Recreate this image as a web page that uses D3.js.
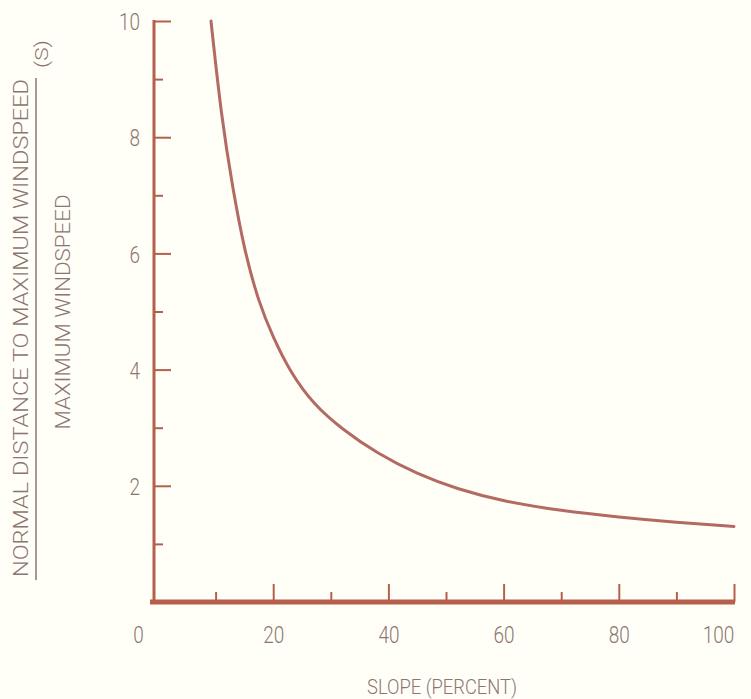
<!DOCTYPE html>
<html>
<head>
<meta charset="utf-8">
<script src="https://cdn.jsdelivr.net/npm/d3@7"></script>
<style>
  html, body { margin: 0; padding: 0; background: #fffff8; }
  svg { display: block; }
  text { font-family: "Roboto", "Liberation Sans Narrow", "DejaVu Sans Condensed", sans-serif; font-weight: 300; }
</style>
</head>
<body>
<svg id="chart" width="751" height="699"></svg>
<script>
// ---- data ----
const slope = [9.2, 11, 13, 15, 17.5, 20, 23, 27, 32, 38, 45, 52, 60, 70, 80, 90, 100];
const ratio = [10.0, 8.35, 7.1, 6.05, 5.15, 4.55, 3.95, 3.40, 2.97, 2.56, 2.20, 1.94, 1.73, 1.57, 1.46, 1.37, 1.30];
const xMajorTicks = [0, 20, 40, 60, 80, 100];
const xMinorTicks = [10, 30, 50, 70, 90];
const yMajorTicks = [2, 4, 6, 8, 10];
const yMinorTicks = [1, 3, 5, 7, 9];
const xTitle = "SLOPE (PERCENT)";
const yTitleTop = "NORMAL DISTANCE TO MAXIMUM WINDSPEED";
const yTitleBottom = "MAXIMUM WINDSPEED";
const yTitleSuffix = "(S)";

const axisColor = "#b5604c";
const curveColor = "#b36a62";
const textColor = "#8c7571";

const svg = d3.select("#chart");
const x = d3.scaleLinear().domain([0, 100]).range([158, 734]);
const y = d3.scaleLinear().domain([0, 10]).range([602, 21]);
const yAxisX = 154;
const digitW = 10.5;

// y axis minor ticks
const gyMinor = svg.append("g").attr("transform", `translate(${yAxisX},0)`)
  .call(d3.axisLeft(y).tickValues(yMinorTicks).tickSizeInner(-9).tickSizeOuter(0).tickFormat(""));
// y axis major ticks
const gy = svg.append("g").attr("transform", `translate(${yAxisX},0)`)
  .call(d3.axisLeft(y).tickValues(yMajorTicks).tickSizeInner(-17).tickSizeOuter(0).tickPadding(14).tickFormat(d3.format("d")));
[gyMinor, gy].forEach(g => {
  g.select(".domain").remove();
  g.selectAll(".tick line").attr("stroke", axisColor).attr("stroke-width", 2);
});
gy.selectAll(".tick text").attr("fill", textColor).attr("font-size", 24).attr("dy", "0.36em")
  .attr("textLength", d => String(d).length * digitW).attr("lengthAdjust", "spacingAndGlyphs");
// y axis line
svg.append("line").attr("x1", yAxisX).attr("x2", yAxisX).attr("y1", y(10) - 1).attr("y2", y(0))
  .attr("stroke", axisColor).attr("stroke-width", 3);

// x axis
const gxMinor = svg.append("g").attr("transform", `translate(0,${y(0)})`)
  .call(d3.axisBottom(x).tickValues(xMinorTicks).tickSizeInner(-10).tickSizeOuter(0).tickFormat(""));
const gx = svg.append("g").attr("transform", `translate(0,${y(0)})`)
  .call(d3.axisBottom(x).tickValues(xMajorTicks).tickSizeInner(-18).tickSizeOuter(0).tickPadding(24).tickFormat(d3.format("d")));
[gxMinor, gx].forEach(g => {
  g.select(".domain").remove();
  g.selectAll(".tick line").attr("stroke", axisColor).attr("stroke-width", 2);
});
gx.selectAll(".tick").filter(d => d === 0).select("line").remove();
gx.selectAll(".tick text").attr("fill", textColor).attr("font-size", 24)
  .attr("textLength", d => String(d).length * digitW).attr("lengthAdjust", "spacingAndGlyphs");
gx.selectAll(".tick").filter(d => d === 0).select("text").attr("dx", -20);
gx.selectAll(".tick").filter(d => d === 100).select("text").attr("dx", -16);
// x axis line (thick)
svg.append("line").attr("x1", yAxisX - 4).attr("x2", x(100) + 1).attr("y1", y(0)).attr("y2", y(0))
  .attr("stroke", axisColor).attr("stroke-width", 5);

// curve
const pts = slope.map((s, i) => [s, ratio[i]]);
svg.append("path").datum(pts)
  .attr("fill", "none").attr("stroke", curveColor).attr("stroke-width", 3).attr("stroke-linecap", "round")
  .attr("d", d3.line().x(d => x(d[0])).y(d => y(d[1])).curve(d3.curveBasis));

// x title
svg.append("text").attr("x", 442).attr("y", 694).attr("text-anchor", "middle")
  .attr("fill", textColor).attr("font-size", 21)
  .attr("textLength", 150).attr("lengthAdjust", "spacingAndGlyphs").text(xTitle);

// y title (fraction)
svg.append("text").attr("transform", "translate(28,328) rotate(-90)").attr("text-anchor", "middle")
  .attr("fill", textColor).attr("font-size", 21)
  .attr("textLength", 498).attr("lengthAdjust", "spacingAndGlyphs").text(yTitleTop);
svg.append("line").attr("x1", 36).attr("x2", 36).attr("y1", 78).attr("y2", 580)
  .attr("stroke", textColor).attr("stroke-width", 1.5);
svg.append("text").attr("transform", "translate(70,312) rotate(-90)").attr("text-anchor", "middle")
  .attr("fill", textColor).attr("font-size", 21)
  .attr("textLength", 235).attr("lengthAdjust", "spacingAndGlyphs").text(yTitleBottom);
svg.append("text").attr("transform", "translate(48,54) rotate(-90)").attr("text-anchor", "middle")
  .attr("fill", textColor).attr("font-size", 18)
  .attr("textLength", 28).attr("lengthAdjust", "spacingAndGlyphs").text(yTitleSuffix);
</script>
</body>
</html>
